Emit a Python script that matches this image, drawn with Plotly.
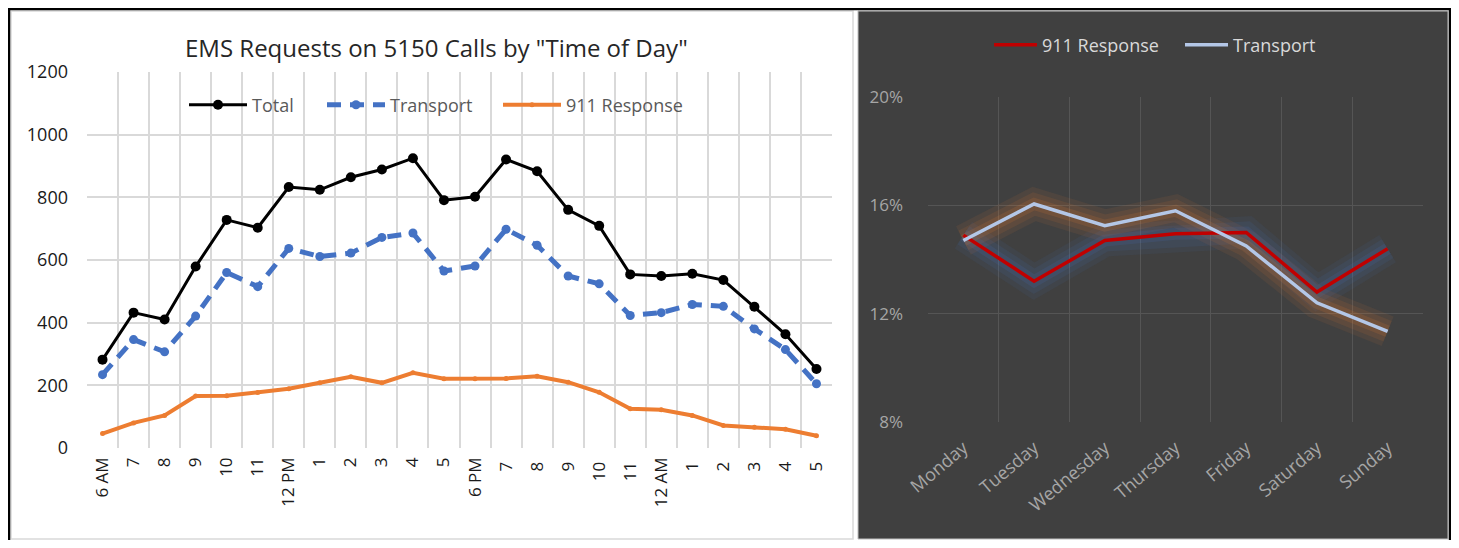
import plotly.graph_objects as go

# ---------------- data ----------------
hours = ["6 AM", "7", "8", "9", "10", "11", "12 PM", "1", "2", "3", "4", "5",
         "6 PM", "7 ", "8 ", "9 ", "10 ", "11 ", "12 AM", "1 ", "2 ", "3 ", "4 ", "5 "]
total = [282, 432, 410, 579, 728, 703, 833, 824, 864, 889, 925, 791,
         802, 921, 883, 760, 709, 554, 549, 556, 536, 451, 363, 252]
transport = [234, 346, 307, 421, 560, 515, 637, 611, 622, 672, 686, 565,
             581, 698, 647, 549, 524, 423, 432, 458, 452, 380, 314, 205]
response_911 = [46, 80, 104, 166, 167, 177, 189, 208, 227, 208, 240, 221,
                221, 222, 229, 210, 178, 125, 122, 104, 72, 66, 60, 39]

days = ["Monday", "Tuesday", "Wednesday", "Thursday", "Friday", "Saturday", "Sunday"]
pct_911 = [14.9, 13.2, 14.7, 14.95, 15.0, 12.8, 14.4]
pct_transport = [14.7, 16.05, 15.25, 15.8, 14.5, 12.4, 11.35]

left_yticks = [0, 200, 400, 600, 800, 1000, 1200]
right_yticks = [8, 12, 16, 20]
right_yticklabels = ["8%", "12%", "16%", "20%"]

# ---------------- geometry helpers ----------------
# the page keeps the browser's default 8px body margin, so the figure is made
# 16px smaller than the window and reference pixel coords are shifted by 8
OX, OY = 8, 8
W, H = 1459 - 16, 548 - 16
def px(x):
    return (x - OX) / W
def py(y):
    return 1 - (y - OY) / H

FONT = "Open Sans"

fig = go.Figure()

# left chart traces
fig.add_trace(go.Scatter(x=hours, y=total, name="Total", mode="lines+markers",
                         line=dict(color="black", width=3),
                         marker=dict(color="black", size=10),
                         xaxis="x", yaxis="y", legend="legend"))
fig.add_trace(go.Scatter(x=hours, y=transport, name="Transport", mode="lines+markers",
                         line=dict(color="#4472C4", width=5, dash="14px,9px"),
                         marker=dict(color="#4472C4", size=9),
                         xaxis="x", yaxis="y", legend="legend3"))
fig.add_trace(go.Scatter(x=hours, y=response_911, name="911 Response", mode="lines+markers",
                         line=dict(color="#ED7D31", width=4),
                         marker=dict(color="#ED7D31", size=5),
                         xaxis="x", yaxis="y", legend="legend4"))

# right chart glow layers
for w, a in [(32, 0.08), (22, 0.10), (12, 0.14)]:
    fig.add_trace(go.Scatter(x=days, y=pct_911, mode="lines", showlegend=False, hoverinfo="skip",
                             line=dict(color=f"rgba(68,114,196,{a})", width=w),
                             xaxis="x2", yaxis="y2"))
    fig.add_trace(go.Scatter(x=days, y=pct_transport, mode="lines", showlegend=False, hoverinfo="skip",
                             line=dict(color=f"rgba(237,125,49,{a})", width=w),
                             xaxis="x2", yaxis="y2"))

fig.add_trace(go.Scatter(x=days, y=pct_911, name="911 Response", mode="lines",
                         line=dict(color="#C00000", width=3.5),
                         xaxis="x2", yaxis="y2", legend="legend2"))
fig.add_trace(go.Scatter(x=days, y=pct_transport, name="Transport", mode="lines",
                         line=dict(color="#B4C7E7", width=3.5),
                         xaxis="x2", yaxis="y2", legend="legend5"))

shapes = [
    # left panel
    dict(type="rect", xref="paper", yref="paper", x0=px(11), x1=px(853), y0=py(539), y1=py(11),
         fillcolor="white", line=dict(color="#d9d9d9", width=1.5), layer="below"),
    # right dark panel
    dict(type="rect", xref="paper", yref="paper", x0=px(858), x1=px(1448), y0=py(539), y1=py(11),
         fillcolor="#404040", line=dict(color="#bfbfbf", width=1), layer="below"),
    # outer frame
    dict(type="line", xref="paper", yref="paper", x0=0, x1=1, y0=py(9), y1=py(9),
         line=dict(color="black", width=2.5)),
    dict(type="line", xref="paper", yref="paper", x0=px(9), x1=px(9), y0=0, y1=1,
         line=dict(color="black", width=2.5)),
    dict(type="line", xref="paper", yref="paper", x0=px(1450), x1=px(1450), y0=0, y1=1,
         line=dict(color="black", width=2.5)),
]

leg_left = dict(orientation="h", yanchor="middle", xanchor="left", bgcolor="rgba(0,0,0,0)",
                font=dict(family=FONT, size=18, color="#595959"), itemwidth=58)
leg_right = dict(orientation="h", yanchor="middle", xanchor="left", bgcolor="rgba(0,0,0,0)",
                 font=dict(family=FONT, size=18, color="#d9d9d9"), itemwidth=43)

fig.update_layout(
    width=W, height=H, autosize=False,
    margin=dict(l=0, r=0, t=0, b=0, pad=0),
    paper_bgcolor="white", plot_bgcolor="rgba(0,0,0,0)",
    font=dict(family=FONT),
    shapes=shapes,
    showlegend=True,
    annotations=[dict(text='EMS Requests on 5150 Calls by "Time of Day"', xref="paper", yref="paper",
                      x=px(436), y=py(47), xanchor="center", yanchor="middle", showarrow=False,
                      font=dict(family=FONT, size=24, color="#262626"))],
    xaxis=dict(domain=[px(87), px(832)], type="category", range=[-0.5, 23.5], automargin=False,
               tickson="boundaries", showgrid=True, gridcolor="#d9d9d9", gridwidth=1.5,
               ticks="", tickangle=-90, tickfont=dict(family=FONT, size=17, color="#1a1a1a"),
               showline=False, zeroline=False, anchor="y", ticklabelstandoff=5),
    yaxis=dict(domain=[py(448), py(72)], range=[0, 1200], tickvals=left_yticks, automargin=False,
               showgrid=True, gridcolor="#d9d9d9", gridwidth=1.5, zeroline=False,
               tickfont=dict(family=FONT, size=18, color="#1a1a1a"), ticks="",
               anchor="x", ticklabelstandoff=18),
    xaxis2=dict(domain=[px(928), px(1423)], type="category", range=[-0.5, 6.5], automargin=False,
                tickson="boundaries", showgrid=True, gridcolor="#555555", gridwidth=1,
                ticks="", tickangle=-40, tickfont=dict(family=FONT, size=18, color="#a6a6a6"),
                showline=False, zeroline=False, anchor="y2", ticklabelstandoff=11),
    yaxis2=dict(domain=[py(422), py(97)], range=[8, 20], tickvals=right_yticks,
                ticktext=right_yticklabels, automargin=False,
                showgrid=True, gridcolor="#555555", gridwidth=1, zeroline=False,
                tickfont=dict(family=FONT, size=17, color="#a6a6a6"), ticks="",
                anchor="x2", ticklabelstandoff=24),
    legend=dict(leg_left, x=px(184), y=py(105)),
    legend3=dict(leg_left, x=px(322), y=py(105)),
    legend4=dict(leg_left, x=px(498), y=py(105)),
    legend2=dict(leg_right, x=px(989), y=py(45)),
    legend5=dict(leg_right, x=px(1180), y=py(45)),
)

fig.write_html("out.html", config={"displayModeBar": False})
